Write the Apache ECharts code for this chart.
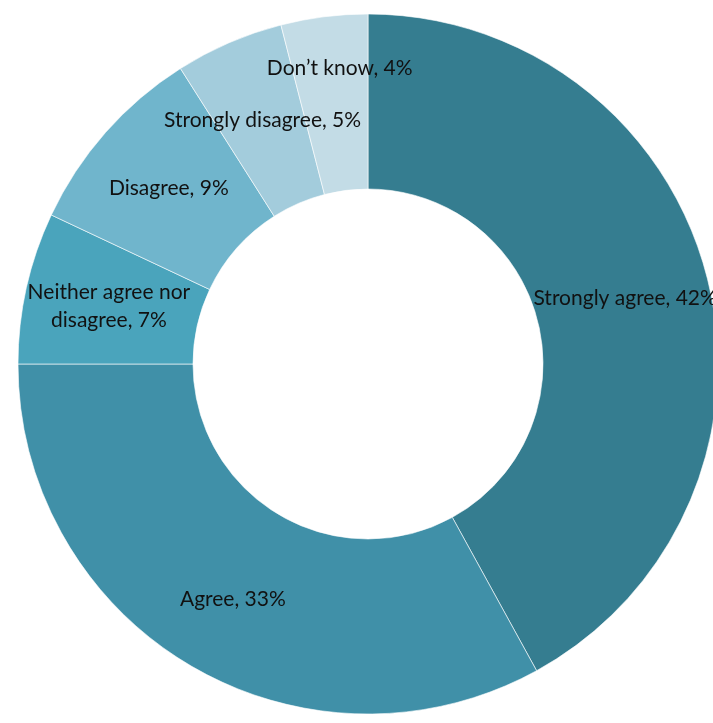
<!DOCTYPE html>
<html>
<head>
<meta charset="utf-8">
<script src="https://cdn.jsdelivr.net/npm/echarts@6/dist/echarts.min.js"></script>
<style>
  html, body { margin: 0; padding: 0; background: #fff; }
  #chart { width: 713px; height: 723px; }
</style>
</head>
<body>
<div id="chart"></div>
<script>
// Survey responses, clockwise from 12 o'clock
const categories = ['Strongly agree', 'Agree', 'Neither agree nor\ndisagree', 'Disagree', 'Strongly disagree', 'Don\u2019t know'];
const shares = [42, 33, 7, 9, 5, 4];
const sliceColors = ['#357d90', '#4090a8', '#4aa4bc', '#70b5cc', '#a3ccdc', '#c3dce6'];

const chart = echarts.init(document.getElementById('chart'), null, { renderer: 'canvas' });

const data = categories.map((name, i) => ({
  name: name,
  value: shares[i],
  itemStyle: { color: sliceColors[i] }
}));
// the smallest slice carries its label up towards the outer rim
data[data.length - 1].label = { offset: [5, -32] };
data[1].label = { offset: [0, 7] };

chart.setOption({
  animation: false,
  series: [{
    type: 'pie',
    center: [368, 364],
    radius: [175, 350],
    startAngle: 90,
    clockwise: true,
    avoidLabelOverlap: false,
    itemStyle: { borderColor: 'rgba(255,255,255,0.6)', borderWidth: 1 },
    label: {
      show: true,
      position: 'inside',
      formatter: p => p.name + ', ' + p.value + '%',
      color: '#111',
      fontFamily: 'Lato',
      fontSize: 21,
      lineHeight: 28,
      align: 'center'
    },
    labelLine: { show: false },
    data: data
  }]
});
</script>
</body>
</html>
